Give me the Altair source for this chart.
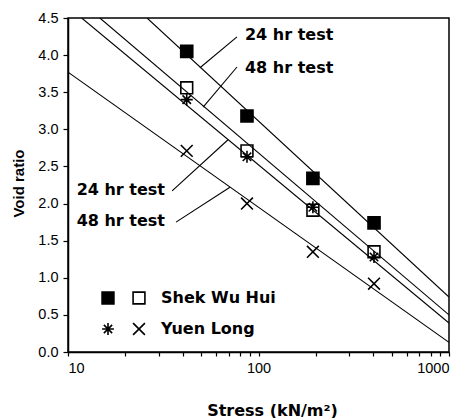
import altair as alt
import pandas as pd

# ---- data ----
stress = [42, 87, 193, 404]
swh_24 = [4.05, 3.18, 2.34, 1.74]   # Shek Wu Hui, 24 hr test (filled square)
swh_48 = [3.56, 2.71, 1.91, 1.35]   # Shek Wu Hui, 48 hr test (open square)
yl_24 = [3.40, 2.63, 1.95, 1.28]    # Yuen Long, 24 hr test (asterisk)
yl_48 = [2.71, 2.00, 1.35, 0.92]    # Yuen Long, 48 hr test (cross)

# fitted straight lines (on log stress axis): two endpoints each
fit_ids = ["SWH 24", "SWH 48", "YL 24", "YL 48"]
fit_s0 = [26.0, 14.7, 11.8, 10.0]
fit_e0 = [4.5, 4.5, 4.5, 3.77]
fit_s1 = [1000, 1000, 1000, 1000]
fit_e1 = [0.74, 0.50, 0.39, 0.13]

# annotations
ann_text = ["24 hr test", "48 hr test", "24 hr test", "48 hr test"]
ann_s = [84.9, 84.9, 11.1, 11.1]
ann_e = [4.27, 3.83, 2.18, 1.77]
lead_s0 = [77.1, 77.1, 35.2, 36.9]
lead_e0 = [4.245, 3.84, 2.17, 1.75]
lead_s1 = [49.3, 51.2, 69.2, 70.8]
lead_e1 = [3.83, 3.30, 2.86, 2.22]

x_ticks = [10, 20, 30, 40, 50, 60, 70, 80, 90, 100, 200, 300, 400, 500,
           600, 700, 800, 900, 1000]
y_ticks = [0.0, 0.5, 1.0, 1.5, 2.0, 2.5, 3.0, 3.5, 4.0, 4.5]

# ---- tables ----
pts = []
for s, a, b, c, d in zip(stress, swh_24, swh_48, yl_24, yl_48):
    pts.append({"stress": s, "void": a, "site": "Shek Wu Hui", "test": "24"})
    pts.append({"stress": s, "void": b, "site": "Shek Wu Hui", "test": "48"})
    pts.append({"stress": s, "void": c, "site": "Yuen Long", "test": "24"})
    pts.append({"stress": s, "void": d, "site": "Yuen Long", "test": "48"})
pts = pd.DataFrame(pts)

fits = []
for i, s0, e0, s1, e1 in zip(fit_ids, fit_s0, fit_e0, fit_s1, fit_e1):
    fits.append({"id": i, "stress": s0, "void": e0})
    fits.append({"id": i, "stress": s1, "void": e1})
fits = pd.DataFrame(fits)

leads = []
for k, (s0, e0, s1, e1) in enumerate(zip(lead_s0, lead_e0, lead_s1, lead_e1)):
    leads.append({"id": k, "stress": s0, "void": e0})
    leads.append({"id": k, "stress": s1, "void": e1})
leads = pd.DataFrame(leads)

anns = pd.DataFrame({"text": ann_text, "stress": ann_s, "void": ann_e})

# ---- scales / axes ----
xscale = alt.Scale(type="log", domain=[10, 1000], nice=False)
yscale = alt.Scale(domain=[0, 4.5], nice=False, zero=False)

xaxis = alt.Axis(
    values=x_ticks, format="d",
    labelExpr="(datum.value==10||datum.value==100||datum.value==1000) ? datum.label : ''",
    labelOverlap=False, grid=False, tickSize=4, tickColor="black", tickWidth=1.2,
    domainColor="black", domainWidth=1.5,
    labelFont="Liberation Sans", labelFontSize=14.5, labelColor="black", labelPadding=5,
    title="Stress (kN/m\u00b2)", titleFont="DejaVu Sans", titleFontSize=16,
    titleFontWeight="bold", titleColor="black", titleX=204, titleY=58,
    titleBaseline="middle",
)
yaxis = alt.Axis(
    values=y_ticks, format=".1f", grid=False, tickSize=5, tickColor="black",
    labelOverlap=False, labelBound=False,
    tickWidth=1.2, domainColor="black", domainWidth=1.5,
    labelFont="Liberation Sans", labelFontSize=14.5, labelColor="black", labelPadding=5,
    title="Void ratio", titleFont="Liberation Sans", titleFontSize=15,
    titleFontWeight="bold", titleColor="black", titleX=-50, titleY=165,
    titleAngle=270, titleBaseline="middle", titleAlign="center",
)

X = alt.X("stress:Q", scale=xscale, axis=xaxis)
Y = alt.Y("void:Q", scale=yscale, axis=yaxis)

asterisk = "M0,-1L0,1M-1,0L1,0M-0.7,-0.7L0.7,0.7M-0.7,0.7L0.7,-0.7"
xcross = "M-1,-1L1,1M-1,1L1,-1"
sq_path = "M-1,-1L1,-1L1,1L-1,1Z"
# solid square drawn with strokes only (so the legend can share stroke styling)
sq_solid = sq_path + "".join(
    "M-1,%gL1,%g" % (v, v) for v in [-0.75, -0.5, -0.25, 0, 0.25, 0.5, 0.75]
)

lines = alt.Chart(fits).mark_line(color="black", strokeWidth=1.1, clip=True).encode(
    x=X, y=Y, detail="id:N"
)
leaders = alt.Chart(leads).mark_line(color="black", strokeWidth=1.1).encode(
    x=X, y=Y, detail="id:N"
)
labels = alt.Chart(anns).mark_text(
    align="left", baseline="middle", font="DejaVu Sans", fontSize=16,
    fontWeight="bold", color="black"
).encode(x=X, y=Y, text="text:N")

p24 = alt.Chart(pts).transform_filter(alt.datum.test == "24").mark_point(
    filled=False, color="black", strokeWidth=1.6, opacity=1
).encode(
    x=X, y=Y,
    shape=alt.Shape("site:N", scale=alt.Scale(domain=["Shek Wu Hui", "Yuen Long"],
                                              range=[sq_solid, asterisk]),
                    legend=alt.Legend(orient="none", legendX=32, legendY=272,
                                      title=None, labelExpr="''",
                                      symbolSize=140, symbolStrokeWidth=1.6,
                                      symbolStrokeColor="black", symbolOpacity=1,
                                      rowPadding=11, padding=0, labelOffset=0,
                                      labelFontSize=16)),
    size=alt.value(145),
)
p48 = alt.Chart(pts).transform_filter(alt.datum.test == "48").mark_point(
    filled=False, color="black", strokeWidth=1.6, opacity=1
).encode(
    x=X, y=Y,
    shape=alt.Shape("site:N", scale=alt.Scale(domain=["Shek Wu Hui", "Yuen Long"],
                                              range=[sq_path, xcross]),
                    legend=alt.Legend(orient="none", legendX=63, legendY=272,
                                      title=None, symbolSize=140,
                                      symbolStrokeColor="black", symbolStrokeWidth=1.6,
                                      symbolOpacity=1,
                                      labelFont="DejaVu Sans", labelFontSize=16,
                                      labelFontWeight="bold", labelColor="black",
                                      labelOffset=14, rowPadding=11, padding=0)),
    size=alt.value(140),
)

chart = alt.layer(lines, leaders, labels, p24, p48).resolve_scale(
    shape="independent"
).properties(
    width=381, height=334,
    autosize=alt.AutoSizeParams(type="none"),
    padding={"left": 68, "top": 18, "right": 18, "bottom": 66},
    background="white",
).configure_view(stroke="black", strokeWidth=1.5)

chart.save("out.html", embed_options={"renderer": "svg", "actions": False})
